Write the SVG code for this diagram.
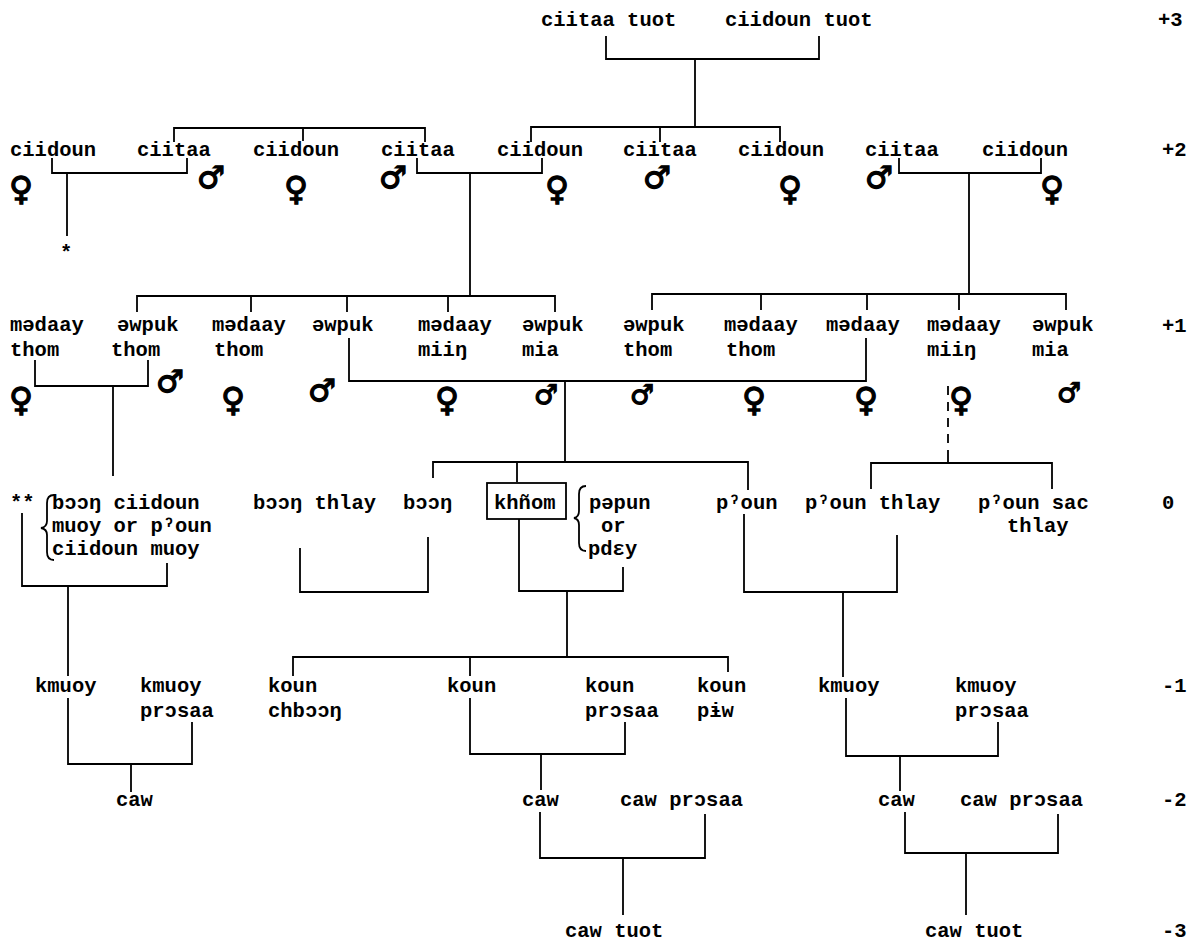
<svg xmlns="http://www.w3.org/2000/svg" width="1187" height="948" viewBox="0 0 1187 948">
<style>
.t{font-family:"Liberation Mono","DejaVu Sans Mono",monospace;font-size:20.5px;font-weight:bold;fill:#000}
.f,.m,.ms{font-family:"DejaVu Sans",sans-serif;font-weight:bold;fill:#000;stroke:#000;stroke-width:1.3;text-anchor:middle}
.f{font-size:33px}
.m{font-size:31px}
.ms{font-size:27px}
.c path,.br{fill:none;stroke:#000;stroke-width:1.8}
.d{stroke-dasharray:9 7}
</style>
<rect width="1187" height="948" fill="#fff"/>
<g id="connectors" class="c">
<path d="M606,36V59H819V36M695,59V127"/>
<path d="M531,142V127H780V142M660,127V142"/>
<path d="M174,142V128H425V142M303,128V141"/>
<path d="M52,158V173H187V158M67,173V236"/>
<path d="M417,158V173H542V158M470,173V296"/>
<path d="M899,158V173H1041V158M969,173V294"/>
<path d="M137,312V296H555V312M251,296V312M347,296V312M448,296V312"/>
<path d="M652,310V294H1066V310M761,294V310M867,294V310M959,294V310"/>
<path d="M35,360V386H148V360M113,386V476"/>
<path d="M349,338V381H866V338M565,381V462"/>
<path class="d" d="M948,386V452"/>
<path d="M948,452V463M871,489V463H1052V489"/>
<path d="M433,478V462H748V490M517,462V482"/>
<path d="M22,513V586H167V563M68,586V676"/>
<path d="M300,548V592H428V537"/>
<path d="M519,519V591H623V567M567,591V657"/>
<path d="M744,514V592H897V535M843,592V677"/>
<path d="M293,676V657H728V672M470,657V676"/>
<path d="M68,698V764H192V722M131,764V792"/>
<path d="M470,698V754H625V722M541,754V790"/>
<path d="M846,698V756H998V722M900,756V791"/>
<path d="M540,812V858H705V814M623,858V915"/>
<path d="M905,812V853H1058V814M966,853V915"/>
</g>
<g id="gen-labels" class="t">
<text x="1158" y="26">+3</text>
<text x="1162" y="156">+2</text>
<text x="1162" y="332">+1</text>
<text x="1162" y="509">0</text>
<text x="1162" y="692">-1</text>
<text x="1162" y="806">-2</text>
<text x="1162" y="937">-3</text>
</g>
<g id="g3-ciitaa-tuot"><text class="t" x="541" y="26">ciitaa tuot</text></g>
<g id="g3-ciidoun-tuot"><text class="t" x="725" y="26">ciidoun tuot</text></g>
<g id="g2-1"><text class="t" x="10" y="156">ciidoun</text><text class="f" x="21" y="200">♀</text></g>
<g id="g2-2"><text class="t" x="137" y="156">ciitaa</text><text class="m" x="211" y="188">♂</text></g>
<g id="g2-3"><text class="t" x="253" y="156">ciidoun</text><text class="f" x="296" y="200">♀</text></g>
<g id="g2-4"><text class="t" x="381" y="156">ciitaa</text><text class="m" x="393" y="188">♂</text></g>
<g id="g2-5"><text class="t" x="497" y="156">ciidoun</text><text class="f" x="557" y="200">♀</text></g>
<g id="g2-6"><text class="t" x="623" y="156">ciitaa</text><text class="m" x="657" y="188">♂</text></g>
<g id="g2-7"><text class="t" x="738" y="156">ciidoun</text><text class="f" x="790" y="200">♀</text></g>
<g id="g2-8"><text class="t" x="865" y="156">ciitaa</text><text class="m" x="879" y="188">♂</text></g>
<g id="g2-9"><text class="t" x="982" y="156">ciidoun</text><text class="f" x="1052" y="200">♀</text></g>
<g id="g2-star"><text class="t" x="60" y="259">*</text></g>
<g id="g1-1"><text class="t" x="10" y="331">mədaay</text><text class="t" x="10" y="356">thom</text><text class="f" x="21" y="411">♀</text></g>
<g id="g1-2"><text class="t" x="117" y="331">əwpuk</text><text class="t" x="111" y="356">thom</text><text class="m" x="170" y="392">♂</text></g>
<g id="g1-3"><text class="t" x="212" y="331">mədaay</text><text class="t" x="214" y="356">thom</text><text class="f" x="233" y="411">♀</text></g>
<g id="g1-4"><text class="t" x="312" y="331">əwpuk</text><text class="m" x="322" y="401">♂</text></g>
<g id="g1-5"><text class="t" x="418" y="331">mədaay</text><text class="t" x="418" y="356">miiŋ</text><text class="f" x="447" y="411">♀</text></g>
<g id="g1-6"><text class="t" x="522" y="331">əwpuk</text><text class="t" x="522" y="356">mia</text><text class="ms" x="546" y="404">♂</text></g>
<g id="g1-7"><text class="t" x="623" y="331">əwpuk</text><text class="t" x="623" y="356">thom</text><text class="ms" x="642" y="404">♂</text></g>
<g id="g1-8"><text class="t" x="724" y="331">mədaay</text><text class="t" x="726" y="356">thom</text><text class="f" x="754" y="411">♀</text></g>
<g id="g1-9"><text class="t" x="826" y="331">mədaay</text><text class="f" x="866" y="411">♀</text></g>
<g id="g1-10"><text class="t" x="927" y="331">mədaay</text><text class="t" x="927" y="356">miiŋ</text><text class="f" x="961" y="411">♀</text></g>
<g id="g1-11"><text class="t" x="1032" y="331">əwpuk</text><text class="t" x="1032" y="356">mia</text><text class="ms" x="1069" y="402">♂</text></g>
<g id="g0-stars"><text class="t" x="10" y="509">**</text></g>
<g id="g0-boong-ciidoun">
<path class="br" d="M54,495Q47,495 47,503V521Q47,527 41,528Q47,529 47,535V552Q47,560 54,560"/>
<text class="t" x="52" y="509">bɔɔŋ ciidoun</text>
<text class="t" x="52" y="532">muoy or pˀoun</text>
<text class="t" x="52" y="555">ciidoun muoy</text>
</g>
<g id="g0-boong-thlay"><text class="t" x="253" y="509">bɔɔŋ thlay</text></g>
<g id="g0-boong"><text class="t" x="403" y="509">bɔɔŋ</text></g>
<g id="g0-khnom"><rect x="487" y="483" width="79" height="36" fill="none" stroke="#000" stroke-width="1.8"/><text class="t" x="494" y="509">khñom</text></g>
<g id="g0-pepun">
<path class="br" d="M586,486Q579,486 579,494V511Q579,517 574,518Q579,519 579,525V543Q579,551 586,551"/>
<text class="t" x="589" y="509">pəpun</text>
<text class="t" x="601" y="532">or</text>
<text class="t" x="588" y="555">pdɛy</text>
</g>
<g id="g0-poun"><text class="t" x="716" y="509">pˀoun</text></g>
<g id="g0-poun-thlay"><text class="t" x="805" y="509">pˀoun thlay</text></g>
<g id="g0-poun-sac-thlay"><text class="t" x="978" y="509">pˀoun sac</text><text class="t" x="1007" y="532">thlay</text></g>
<g id="gm1-kmuoy-a"><text class="t" x="35" y="692">kmuoy</text></g>
<g id="gm1-kmuoy-prosaa-a"><text class="t" x="140" y="692">kmuoy</text><text class="t" x="140" y="717">prɔsaa</text></g>
<g id="gm1-koun-chboong"><text class="t" x="268" y="692">koun</text><text class="t" x="268" y="717">chbɔɔŋ</text></g>
<g id="gm1-koun"><text class="t" x="447" y="692">koun</text></g>
<g id="gm1-koun-prosaa"><text class="t" x="585" y="692">koun</text><text class="t" x="585" y="717">prɔsaa</text></g>
<g id="gm1-koun-piw"><text class="t" x="697" y="692">koun</text><text class="t" x="697" y="717">pɨw</text></g>
<g id="gm1-kmuoy-b"><text class="t" x="818" y="692">kmuoy</text></g>
<g id="gm1-kmuoy-prosaa-b"><text class="t" x="955" y="692">kmuoy</text><text class="t" x="955" y="717">prɔsaa</text></g>
<g id="gm2-caw-a"><text class="t" x="116" y="806">caw</text></g>
<g id="gm2-caw-b"><text class="t" x="522" y="806">caw</text></g>
<g id="gm2-caw-prosaa-b"><text class="t" x="620" y="806">caw prɔsaa</text></g>
<g id="gm2-caw-c"><text class="t" x="878" y="806">caw</text></g>
<g id="gm2-caw-prosaa-c"><text class="t" x="960" y="806">caw prɔsaa</text></g>
<g id="gm3-caw-tuot-a"><text class="t" x="565" y="937">caw tuot</text></g>
<g id="gm3-caw-tuot-b"><text class="t" x="925" y="937">caw tuot</text></g>
</svg>
